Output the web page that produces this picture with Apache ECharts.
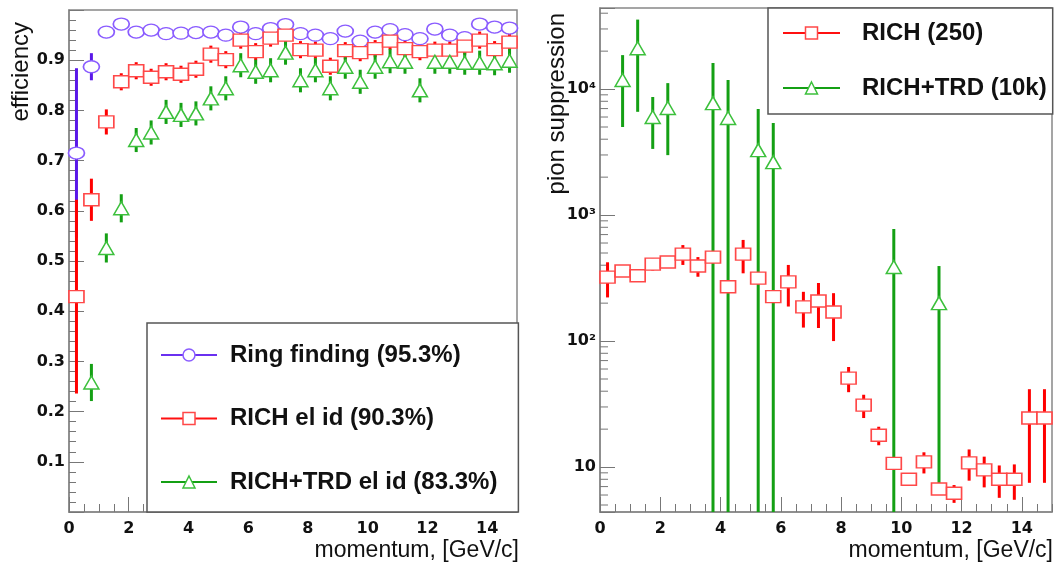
<!DOCTYPE html>
<html>
<head>
<meta charset="utf-8">
<script src="https://cdn.jsdelivr.net/npm/echarts@6/dist/echarts.min.js"></script>
<style>
  html, body { margin: 0; padding: 0; background: #fff; }
  #chart { width: 1056px; height: 567px; }
</style>
</head>
<body>
<div id="chart"></div>
<script>
// momentum bin centres, GeV/c
const bins = [0.25, 0.75, 1.25, 1.75, 2.25, 2.75, 3.25, 3.75, 4.25, 4.75,
  5.25, 5.75, 6.25, 6.75, 7.25, 7.75, 8.25, 8.75, 9.25, 9.75,
  10.25, 10.75, 11.25, 11.75, 12.25, 12.75, 13.25, 13.75, 14.25, 14.75];

// left panel: efficiency
const ringEff = [0.715, 0.887, 0.956, 0.972, 0.956, 0.960, 0.953, 0.954, 0.955, 0.956,
  0.950, 0.966, 0.953, 0.963, 0.971, 0.953, 0.950, 0.943, 0.958, 0.938,
  0.956, 0.961, 0.951, 0.943, 0.962, 0.950, 0.945, 0.972, 0.966, 0.964];
const ringErr = [0.169, 0.027, 0.012, 0.012, 0.012, 0.012, 0.012, 0.012, 0.012, 0.012,
  0.012, 0.012, 0.012, 0.012, 0.012, 0.012, 0.012, 0.012, 0.012, 0.012,
  0.012, 0.012, 0.012, 0.012, 0.012, 0.012, 0.012, 0.012, 0.012, 0.012];
const richEff = [0.429, 0.622, 0.777, 0.857, 0.879, 0.866, 0.877, 0.872, 0.882, 0.912,
  0.901, 0.940, 0.917, 0.944, 0.950, 0.921, 0.920, 0.888, 0.919, 0.915,
  0.923, 0.938, 0.923, 0.917, 0.920, 0.920, 0.928, 0.940, 0.921, 0.936];
const richErr = [0.193, 0.042, 0.025, 0.017, 0.017, 0.017, 0.017, 0.017, 0.017, 0.017,
  0.017, 0.017, 0.017, 0.017, 0.017, 0.017, 0.017, 0.017, 0.017, 0.017,
  0.017, 0.017, 0.017, 0.017, 0.017, 0.017, 0.017, 0.017, 0.017, 0.017];
const trdEff = [null, 0.258, 0.526, 0.605, 0.741, 0.756, 0.797, 0.791, 0.794, 0.824,
  0.844, 0.890, 0.877, 0.880, 0.915, 0.860, 0.880, 0.844, 0.887, 0.857,
  0.887, 0.898, 0.897, 0.840, 0.897, 0.897, 0.895, 0.895, 0.894, 0.899];
const trdErr = [null, 0.037, 0.029, 0.028, 0.024, 0.024, 0.024, 0.024, 0.024, 0.024,
  0.024, 0.024, 0.024, 0.024, 0.024, 0.024, 0.024, 0.024, 0.024, 0.024,
  0.024, 0.024, 0.024, 0.024, 0.024, 0.024, 0.024, 0.024, 0.024, 0.024];

// right panel: pion suppression
const richSupp = [322, 360, 330, 408, 424, 490, 394, 464, 270, 490,
  316, 225, 295, 187, 208, 170, 50.8, 31, 17.9, 10.7,
  8.0, 11, 6.7, 6.2, 10.8, 9.5, 8.0, 8.0, 24.5, 24.5];
const richSuppErr = [100, 30, 30, 45, 40, 88, 70, 40, 25, 145,
  30, 25, 107, 59, 81, 70, 11.5, 6.5, 3, 0.8,
  0.7, 2.1, 0.5, 1.0, 3.0, 2.6, 2.3, 2.5, 17, 17];
const trdSupp = [null, 11800, 21100, 6000, 7070, null, null, 7740, 5890, null,
  3280, 2630, null, null, null, null, null, null, null, 387,
  null, null, 200, null, null, null, null, null, null, null];
const trdSuppErr = [null, 6800, 14500, 2650, 4080, null, null, 8360, 5910, null,
  3660, 2740, null, null, null, null, null, null, null, 387,
  null, null, 194, null, null, null, null, null, null, null];

const effTickMax = 1;
const suppMin = 4.4;
const suppMax = 44000;
const logTickLabels = { 1: '10', 2: '10\u00b2', 3: '10\u00b3', 4: '10\u2074' };

const tickFont = { fontFamily: 'DejaVu Sans', fontWeight: 'bold', fontSize: 16, color: '#111' };
const titleFont = '24px "Liberation Sans", Arial, sans-serif';
const frameColor = '#888';
const ellipse = 'path://M0,5A5,5 0 1,1 10,5A5,5 0 1,1 0,5Z';

function points(vals) {
  return bins.map((x, i) => (vals[i] == null ? null : [x, vals[i]])).filter(Boolean);
}
function withErr(vals, errs) {
  return bins.map((x, i) => (vals[i] == null ? null : [x, vals[i], errs[i]])).filter(Boolean);
}

function errSeries(name, vals, errs, color, xi, yi, lo, hi) {
  return {
    type: 'custom',
    name: name,
    xAxisIndex: xi,
    yAxisIndex: yi,
    z: 2,
    silent: true,
    data: withErr(vals, errs),
    renderItem(params, api) {
      const x = api.value(0);
      const y = api.value(1);
      const e = api.value(2);
      const p1 = api.coord([x, Math.min(y + e, hi)]);
      const p2 = api.coord([x, Math.max(y - e, lo)]);
      return {
        type: 'line',
        shape: { x1: p1[0], y1: p1[1], x2: p2[0], y2: p2[1] },
        style: { stroke: color, lineWidth: 3 },
      };
    },
  };
}

function markSeries(name, vals, symbol, size, lineColor, markColor, xi, yi) {
  return {
    type: 'line',
    name: name,
    xAxisIndex: xi,
    yAxisIndex: yi,
    z: 3,
    silent: true,
    data: points(vals),
    symbol: symbol,
    symbolSize: size,
    showSymbol: true,
    showAllSymbol: true,
    lineStyle: { color: lineColor, width: 2, opacity: 0 },
    itemStyle: { color: '#fff', borderColor: markColor, borderWidth: 1.5 },
    emphasis: { disabled: true },
  };
}

function tickSeries(xi, yi, vals) {
  return {
    type: 'custom',
    xAxisIndex: xi,
    yAxisIndex: yi,
    z: 1,
    silent: true,
    data: vals.map((v) => [0, v]),
    renderItem(params, api) {
      const c = api.coord([api.value(0), api.value(1)]);
      return {
        type: 'line',
        shape: { x1: c[0], y1: c[1], x2: c[0] + 8, y2: c[1] },
        style: { stroke: '#777', lineWidth: 1 },
      };
    },
  };
}

// minor ticks of the log axis (2..9 of each decade)
const logMinor = [];
for (let d = 0; d <= 4; d++) {
  for (let m = 2; m <= 9; m++) {
    const v = m * Math.pow(10, d);
    if (v > suppMin && v < suppMax) logMinor.push(v);
  }
}

function xMain(gridIndex) {
  return {
    gridIndex: gridIndex,
    type: 'value',
    position: 'bottom',
    min: 0,
    max: 15,
    interval: 2,
    axisLine: { lineStyle: { color: frameColor, width: 1.5 } },
    axisTick: { inside: true, length: 15, lineStyle: { color: '#777' } },
    axisLabel: Object.assign({ margin: 9, showMaxLabel: false }, tickFont),
    splitLine: { show: false },
  };
}
function xMinor(gridIndex) {
  return {
    gridIndex: gridIndex,
    type: 'value',
    position: 'bottom',
    min: 0,
    max: 15,
    interval: 0.5,
    axisLine: { show: false },
    axisTick: { inside: true, length: 8, lineStyle: { color: '#777' } },
    axisLabel: { show: false },
    splitLine: { show: false },
  };
}

function legendBox(left, top, padding, gap, names, itemWidth) {
  return {
    orient: 'vertical',
    left: left,
    top: top,
    padding: padding.slice(0, 4),
    itemGap: gap,
    itemWidth: itemWidth,
    itemHeight: 15,
    data: names,
    selectedMode: false,
    backgroundColor: '#fff',
    borderColor: '#555',
    borderWidth: 1.5,
    borderRadius: 0,
    textStyle: {
      fontFamily: 'Liberation Sans',
      fontWeight: 'bold',
      fontSize: 24,
      color: '#111',
      padding: [0, 0, 0, padding[4]],
    },
    lineStyle: { opacity: 1, width: 2 },
    itemStyle: { borderWidth: 1.5 },
  };
}

const chart = echarts.init(document.getElementById('chart'));

const option = {
  animation: false,
  backgroundColor: '#fff',
  grid: [
    { left: 69, top: 10, width: 448, height: 502, show: true, borderColor: frameColor, borderWidth: 1.5, outerBoundsMode: 'none' },
    { left: 600, top: 8, width: 452, height: 504, show: true, borderColor: frameColor, borderWidth: 1.5, outerBoundsMode: 'none' },
  ],
  xAxis: [xMain(0), xMinor(0), xMain(1), xMinor(1)],
  yAxis: [
    {
      gridIndex: 0,
      type: 'value',
      min: 0,
      max: effTickMax,
      interval: 0.1,
      axisLine: { lineStyle: { color: frameColor, width: 1.5 } },
      axisTick: { inside: true, length: 15, lineStyle: { color: '#777' } },
      minorTick: { show: true, splitNumber: 5, length: 7, lineStyle: { color: '#777' } },
      axisLabel: Object.assign({
        margin: 4,
        formatter: (v) => (v < 0.001 || v > 0.999 ? '' : v.toFixed(1)),
      }, tickFont),
      splitLine: { show: false },
    },
    {
      gridIndex: 1,
      type: 'log',
      logBase: 10,
      min: suppMin,
      max: suppMax,
      axisLine: { lineStyle: { color: frameColor, width: 1.5 } },
      axisTick: { inside: true, length: 15, lineStyle: { color: '#777' } },
      axisLabel: Object.assign({
        margin: 4,
        formatter: (v) => {
          const l = Math.log10(v);
          const p = Math.round(l);
          return Math.abs(l - p) < 1e-6 ? (logTickLabels[p] || '') : '';
        },
      }, tickFont),
      splitLine: { show: false },
    },
  ],
  legend: [
    legendBox(147, 323, [20, 21, 18, 13, 8], 39.5,
      ['Ring finding (95.3%)', 'RICH el id (90.3%)', 'RICH+TRD el id (83.3%)'], 56),
    legendBox(768, 8, [13, 6, 14, 14, 17], 31,
      ['RICH (250)', 'RICH+TRD (10k)'], 57),
  ],
  graphic: [
    { type: 'text', x: 21, y: 22, rotation: Math.PI / 2,
      style: { text: 'efficiency', font: titleFont, fill: '#111', align: 'right', textAlign: 'right', verticalAlign: 'middle', textVerticalAlign: 'middle' } },
    { type: 'text', x: 519, y: 551,
      style: { text: 'momentum, [GeV/c]', font: '23px "Liberation Sans", Arial, sans-serif', fill: '#111', align: 'right', textAlign: 'right', verticalAlign: 'middle', textVerticalAlign: 'middle' } },
    { type: 'text', x: 557, y: 13, rotation: Math.PI / 2,
      style: { text: 'pion suppression', font: titleFont, fill: '#111', align: 'right', textAlign: 'right', verticalAlign: 'middle', textVerticalAlign: 'middle' } },
    { type: 'text', x: 1053, y: 551,
      style: { text: 'momentum, [GeV/c]', font: '23px "Liberation Sans", Arial, sans-serif', fill: '#111', align: 'right', textAlign: 'right', verticalAlign: 'middle', textVerticalAlign: 'middle' } },
  ],
  series: [
    tickSeries(2, 1, logMinor),
    errSeries('ringErr', ringEff, ringErr, '#5a18e8', 0, 0, 0, effTickMax),
    errSeries('richErr', richEff, richErr, '#ff0000', 0, 0, 0, effTickMax),
    errSeries('trdErr', trdEff, trdErr, '#14a014', 0, 0, 0, effTickMax),
    markSeries('Ring finding (95.3%)', ringEff, ellipse, [16, 12], '#6a30f0', '#8a5cff', 0, 0),
    markSeries('RICH el id (90.3%)', richEff, 'rect', [15, 12], '#ff1010', '#ff4848', 0, 0),
    markSeries('RICH+TRD el id (83.3%)', trdEff, 'triangle', [15, 13], '#14a014', '#3cc03c', 0, 0),
    errSeries('richSuppErr', richSupp, richSuppErr, '#ff0000', 2, 1, suppMin, suppMax),
    errSeries('trdSuppErr', trdSupp, trdSuppErr, '#14a014', 2, 1, suppMin, suppMax),
    markSeries('RICH (250)', richSupp, 'rect', [15, 12], '#ff1010', '#ff4848', 2, 1),
    markSeries('RICH+TRD (10k)', trdSupp, 'triangle', [15, 13], '#14a014', '#3cc03c', 2, 1),
  ],
};

chart.setOption(option);
</script>
</body>
</html>
